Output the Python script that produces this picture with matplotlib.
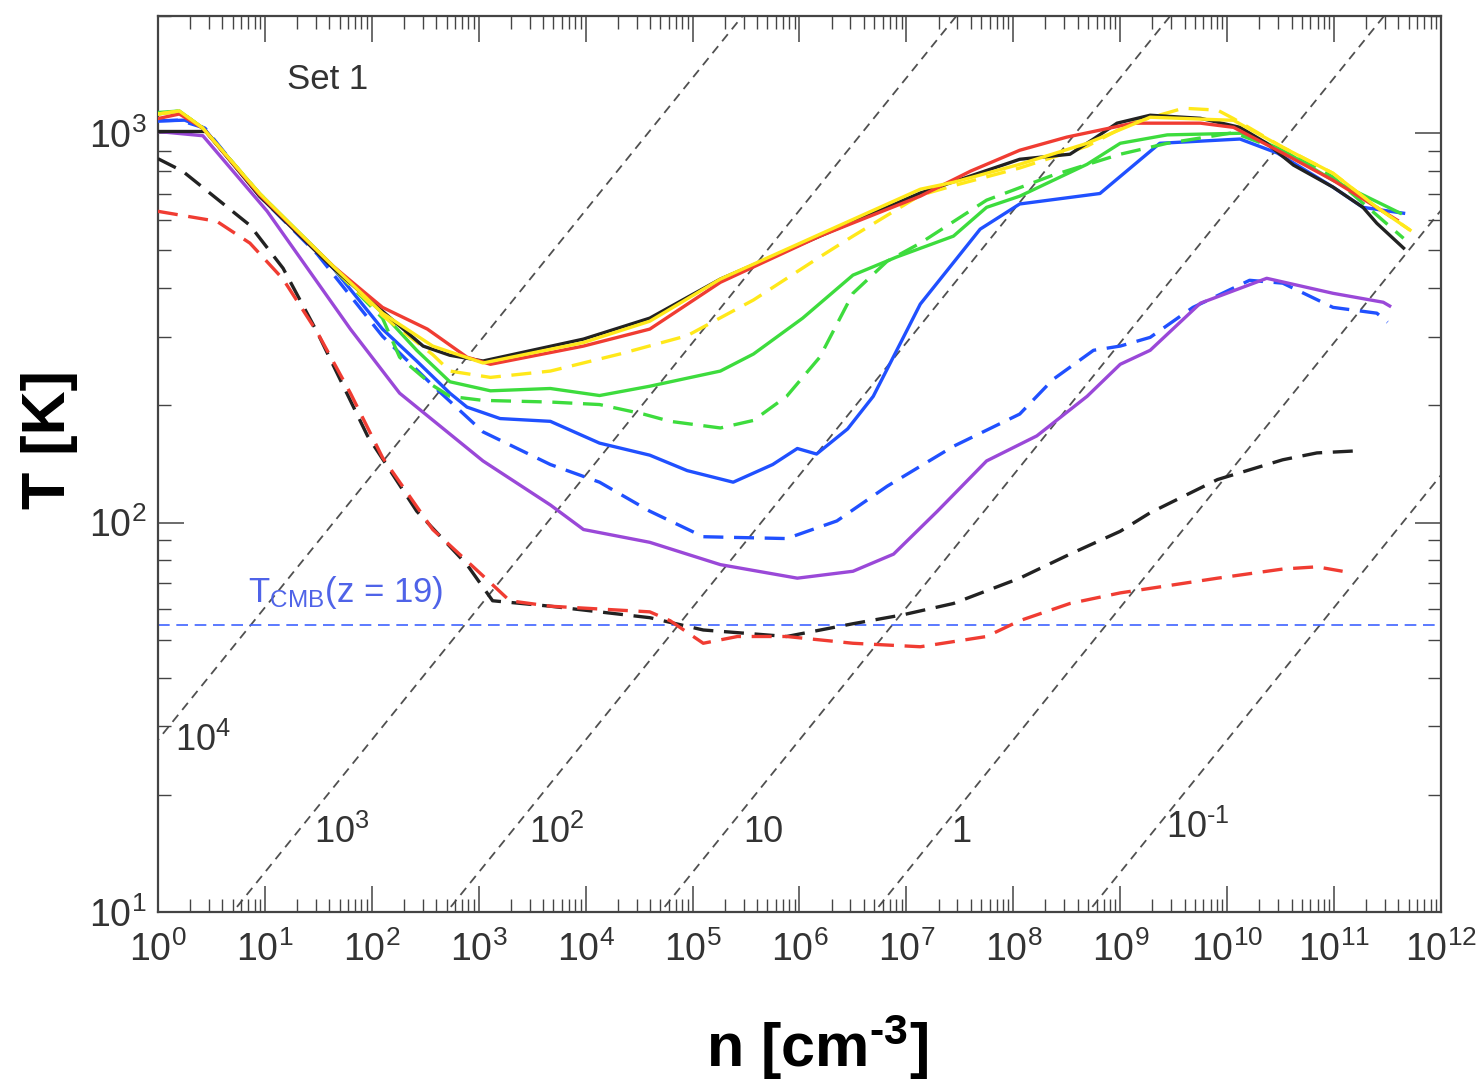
import numpy as np
import matplotlib
matplotlib.use("Agg")
import matplotlib.pyplot as plt
from matplotlib.ticker import LogLocator, NullFormatter

plt.rcParams["font.family"] = ["Liberation Sans", "DejaVu Sans"]
plt.rcParams["mathtext.fontset"] = "custom"
plt.rcParams["mathtext.rm"] = "Liberation Sans"
plt.rcParams["mathtext.bf"] = "Liberation Sans:bold"
plt.rcParams["mathtext.default"] = "regular"

# --- curves: log10(n [cm^-3]) and T [K] ---
black_logn = [0.0, 0.25, 0.45, 0.95, 1.64, 2.10, 2.48, 2.73, 3.04, 3.98, 4.60, 5.26, 6.19, 7.13,
              8.06, 8.53, 8.75, 8.97, 9.28, 9.75, 10.12, 10.37, 10.62, 10.99, 11.27, 11.40, 11.65]
black_T = [1010, 1010, 1010, 689, 450, 349, 284, 269, 260, 296, 335, 422, 544, 702,
           857, 883, 966, 1061, 1112, 1092, 1035, 942, 828, 727, 645, 587, 507]

red_logn = [0.0, 0.2, 0.42, 0.95, 1.64, 2.10, 2.52, 2.89, 3.11, 3.98, 4.60, 5.26, 6.19, 7.13,
            7.60, 8.06, 8.50, 9.12, 9.75, 10.06, 10.52, 10.99, 11.59]
red_T = [1090, 1120, 1030, 695, 455, 357, 314, 266, 255, 284, 314, 414, 544, 689,
         799, 904, 977, 1061, 1061, 1035, 889, 757, 598]

yellow_logn = [0.0, 0.2, 0.42, 0.95, 1.64, 2.10, 2.57, 3.04, 3.98, 4.60, 5.26, 6.19, 7.13, 7.44,
               8.06, 8.69, 9.28, 10.06, 10.52, 10.99, 11.40, 11.71]
yellow_T = [1120, 1140, 1030, 700, 455, 345, 284, 257, 290, 329, 422, 550, 718, 748,
            832, 942, 1099, 1079, 920, 789, 645, 564]

green_logn = [0.0, 0.2, 0.42, 0.95, 1.64, 2.10, 2.42, 2.73, 3.11, 3.67, 4.13, 4.60, 5.26, 5.57,
              6.03, 6.50, 6.91, 7.44, 7.75, 8.06, 8.69, 9.00, 9.44, 10.15, 10.52, 10.99, 11.62]
green_T = [1120, 1140, 1030, 700, 455, 345, 277, 230, 218, 221, 212, 224, 245, 271,
           335, 432, 481, 544, 645, 689, 832, 942, 990, 1000, 904, 757, 623]

blue_logn = [0.0, 0.25, 0.42, 0.95, 1.64, 2.10, 2.42, 2.73, 2.89, 3.20, 3.67, 4.13, 4.60, 4.95,
             5.38, 5.75, 5.98, 6.16, 6.45, 6.69, 6.91, 7.13, 7.69, 8.06, 8.81, 9.37, 10.12,
             10.47, 10.99, 11.27, 11.65]
blue_T = [1075, 1080, 1035, 695, 450, 314, 260, 215, 198, 185, 182, 160, 149, 136,
          127, 141, 155, 150, 174, 211, 277, 364, 567, 658, 700, 942, 966,
          889, 727, 645, 623]

purple_logn = [0.0, 0.42, 1.02, 1.80, 2.26, 3.04, 3.67, 3.98, 4.60, 5.26, 5.98, 6.50, 6.88,
               7.29, 7.75, 8.22, 8.69, 9.00, 9.28, 9.75, 10.37, 10.99, 11.46, 11.52]
purple_T = [1010, 985, 631, 314, 215, 144, 111, 96, 89, 78, 72, 75, 83,
            107, 144, 167, 211, 255, 277, 366, 424, 388, 368, 360]

black_d_logn = [0.0, 0.23, 0.86, 1.17, 1.49, 1.96, 2.42, 2.89, 3.13, 3.67, 4.60, 5.10, 5.88,
                6.50, 6.97, 7.44, 8.06, 8.53, 9.00, 9.28, 9.91, 10.52, 10.84, 11.24]
black_d_T = [860, 799, 580, 450, 308, 167, 107, 78, 63, 61, 57, 53, 51,
             55, 58, 62, 72, 83, 95, 106, 129, 145, 151, 153]

red_d_logn = [0.0, 0.55, 0.86, 1.17, 1.49, 1.80, 2.10, 2.57, 3.04, 3.29, 3.67, 4.60, 4.79,
              5.10, 5.42, 5.88, 6.50, 7.13, 7.75, 8.06, 8.53, 9.00, 9.91, 10.52, 10.84, 11.08]
red_d_T = [630, 594, 522, 422, 308, 215, 147, 96, 73, 63, 61, 59, 56,
           49, 51, 51, 49, 48, 51, 56, 62, 66, 72, 76, 77, 75]

yellow_d_logn = [0.0, 0.2, 0.42, 0.95, 1.64, 2.10, 2.57, 2.73, 3.11, 3.67, 4.32, 4.95, 5.57,
                 6.19, 6.50, 7.13, 7.44, 8.06, 8.69, 9.10, 9.59, 9.91, 10.06, 10.52, 10.99,
                 11.40, 11.71]
yellow_d_T = [1120, 1140, 1030, 700, 450, 340, 270, 245, 236, 245, 271, 302, 373,
              481, 544, 693, 733, 814, 926, 1060, 1159, 1146, 1090, 920, 789,
              645, 564]

green_d_logn = [0.0, 0.2, 0.42, 0.95, 1.64, 2.10, 2.26, 2.57, 2.73, 3.04, 3.67, 4.13, 4.54,
                4.79, 5.26, 5.57, 5.88, 6.19, 6.50, 6.82, 7.13, 7.75, 8.37, 9.00, 9.44,
                10.06, 10.68, 10.99, 11.65]
green_d_T = [1130, 1140, 1030, 700, 450, 335, 266, 225, 211, 206, 204, 201, 190,
             182, 175, 183, 211, 266, 388, 469, 522, 673, 780, 883, 942,
             1003, 867, 771, 537]

blue_d_logn = [0.0, 0.2, 0.44, 0.95, 1.49, 2.10, 2.57, 3.04, 3.67, 4.13, 4.60, 5.10, 5.88,
               6.35, 6.82, 7.44, 8.06, 8.37, 8.75, 9.00, 9.28, 9.68, 10.21, 10.52, 10.99,
               11.40, 11.50]
blue_d_T = [1075, 1080, 1030, 690, 489, 301, 225, 171, 141, 127, 107, 92, 91,
            101, 124, 157, 190, 233, 277, 284, 299, 357, 419, 412, 357,
            345, 327]

# Jeans mass lines (solar masses) and their labels
jeans_masses = [1e4, 1e3, 1e2, 1e1, 1e0, 1e-1]
jeans_labels = [r"$10^{4}$", r"$10^{3}$", r"$10^{2}$", "10", "1", "$10^{\u20101}$"]
jeans_label_n = [10**0.16, 10**1.46, 10**3.47, 10**5.47, 10**7.42, 10**9.43]
jeans_label_T = [27.5, 16.0, 16.0, 16.0, 16.0, 16.4]

T_cmb = 2.725 * (1 + 19)

fig = plt.figure(figsize=(14.79, 10.85), dpi=100)
ax = fig.add_axes([0.1068, 0.1594, 0.8675, 0.8259])

# Jeans mass lines: log T = 1 + 0.34 (log n - n0(M))
n_line = np.logspace(-3, 13, 50)
for m in jeans_masses:
    n0 = 0.70 + 2 * (3 - np.log10(m))
    ax.plot(n_line, 10**(1 + 0.34 * (np.log10(n_line) - n0)), color="#505050",
            lw=1.3, dashes=(5, 3.5), zorder=1)
for lab, xn, yt in zip(jeans_labels, jeans_label_n, jeans_label_T):
    ax.text(xn, yt, lab, fontsize=26, color="#333333", ha="left", va="center")

ax.axhline(T_cmb, color="#3f63ff", lw=1.2, dashes=(7, 4), zorder=2)
ax.text(10**0.84, 66, r"T$_{\rm CMB}$(z = 19)", fontsize=25, color="#4f63e8",
        ha="left", va="center")

lw = 2.4
dash = (6, 3.2)
series = [
    (blue_d_logn, blue_d_T, "#2050ff", True),
    (black_d_logn, black_d_T, "#222222", True),
    (red_d_logn, red_d_T, "#f03c32", True),
    (purple_logn, purple_T, "#9a48d8", False),
    (blue_logn, blue_T, "#2050ff", False),
    (green_d_logn, green_d_T, "#3ddc3d", True),
    (green_logn, green_T, "#3ddc3d", False),
    (yellow_d_logn, yellow_d_T, "#ffe81a", True),
    (black_logn, black_T, "#222222", False),
    (red_logn, red_T, "#f03c32", False),
    (yellow_logn, yellow_T, "#ffe81a", False),
]
for logn, temp, col, dashed in series:
    kw = dict(dashes=dash) if dashed else {}
    ax.plot(10**np.array(logn), temp, color=col, lw=lw, zorder=3, **kw)

ax.text(10**1.21, 1370, "Set 1", fontsize=25, color="#333333", ha="left", va="center")

ax.set_xscale("log")
ax.set_yscale("log")
ax.set_xlim(1, 1e12)
ax.set_ylim(10, 2000)
ax.set_xticks([10.0**k for k in range(13)])
ax.xaxis.set_minor_locator(LogLocator(base=10, subs=np.arange(2, 10), numticks=100))
ax.xaxis.set_minor_formatter(NullFormatter())
ax.set_yticks([10, 100, 1000])
ax.yaxis.set_minor_locator(LogLocator(base=10, subs=np.arange(2, 10), numticks=100))
ax.yaxis.set_minor_formatter(NullFormatter())

ax.tick_params(which="both", direction="in", top=True, right=True, color="#444444",
               labelcolor="#333333")
ax.tick_params(which="major", length=19, width=1.1, labelsize=27)
ax.tick_params(which="minor", length=9.5, width=1.0)
ax.tick_params(axis="x", which="major", pad=14)
ax.tick_params(axis="y", which="major", pad=8)
for sp in ax.spines.values():
    sp.set_color("#444444")
    sp.set_linewidth(1.6)

ax.set_xlabel("n [cm$^{\\mathbf{\u20103}}$]", fontsize=44, fontweight="bold")
ax.xaxis.set_label_coords(0.514, -0.112)
ax.set_ylabel("T [K]", fontsize=44, fontweight="bold")
ax.yaxis.set_label_coords(-0.062, 0.527)

fig.savefig("out.png", dpi=100)
